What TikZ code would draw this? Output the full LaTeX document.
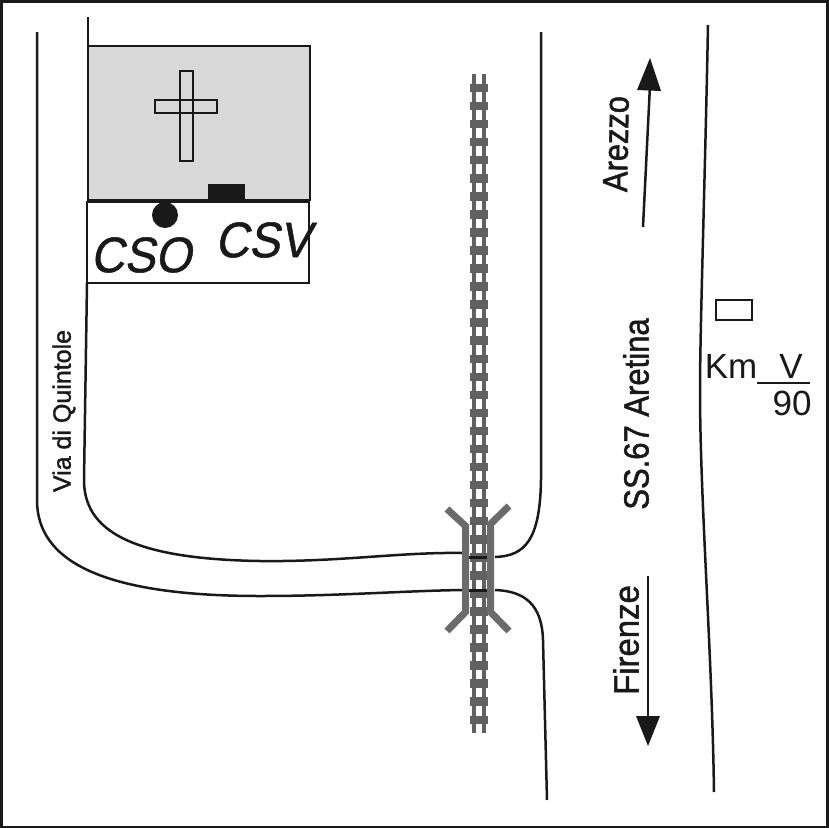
\documentclass[tikz,border=0pt]{standalone}
\usepackage{fontspec}
\setmainfont{Liberation Sans}
\newfontfamily\boldish[FakeBold=1.5]{Liberation Sans}
\newfontfamily\boldishit[FakeBold=1,FakeSlant=0.2]{Liberation Sans}
\usetikzlibrary{arrows.meta}
\definecolor{railc}{gray}{0.38}
\definecolor{bridgec}{gray}{0.42}
\definecolor{churchc}{gray}{0.85}
\definecolor{inkc}{gray}{0.1}
\tikzset{
  road/.style={draw=inkc,line width=2.5pt},
  thin box/.style={draw=inkc,line width=2.2pt},
  rail/.style={draw=railc,line width=4pt},
  tie/.style={draw=railc,line width=8.5pt},
  bridgeline/.style={draw=bridgec,line width=7pt},
  label/.style={inner sep=0pt,text=inkc},
  dirarrow/.style={draw=inkc,line width=2.5pt}
}
\begin{document}
\begin{tikzpicture}[x=1pt,y=-1pt]
\useasboundingbox (0,0) rectangle (828,828);
\fill[white] (0,0) rectangle (828,828);
% rails
\draw[rail] (474,74) -- (474,733);
\draw[rail] (484,74) -- (484,733);
\foreach \i in {0,...,35} {
  \pgfmathsetmacro{\yy}{88+18.05*\i}
  \draw[tie] (470,\yy) -- (488,\yy);
}
% church
\draw[thin box,fill=churchc] (88,46) rectangle (310,200);
\draw[thin box] (155,100) rectangle (217,113);
\draw[thin box] (180,71) rectangle (193,161);
\draw[thin box] (180,100) -- (180,113) (193,100) -- (193,113);
\fill[inkc] (208,184) rectangle (245,201);
\draw[thin box] (87,202) rectangle (309,283);
\draw[draw=inkc,line width=3.5pt] (87,201) -- (310,201);
\fill[inkc] (165,215) circle (13);
% roads
\draw[road] (88,17) -- (88,46);
\draw[road] (87,283) -- (84,480)
  .. controls (84,530) and (130,559) .. (260,561)
  .. controls (340,562) and (400,552) .. (462,553);
\draw[road] (37,32) -- (37,500)
  .. controls (37,560) and (100,596) .. (260,596)
  .. controls (340,596) and (400,591) .. (462,590);
\draw[road] (495,557) .. controls (525,556) and (540,540) .. (541,480) -- (541,32);
\draw[road] (495,590) .. controls (525,591) and (542,605) .. (543,640) -- (547,800);
\draw[road] (708,25) .. controls (705,180) and (700,330) .. (700,390)
  .. controls (700,500) and (712,650) .. (714,792);
% bridge
\draw[bridgeline,line join=miter] (447,509) -- (465.5,526) -- (465.5,612) -- (447,631);
\draw[bridgeline,line join=miter] (509,506) -- (490.5,524) -- (490.5,612) -- (509,631);
\draw[road,line width=3pt] (469,557) -- (487,557);
\draw[road,line width=3pt] (469,590) -- (487,590);
% direction arrows
\draw[dirarrow] (643,227) -- (650,85);
\fill[inkc] (650,58) -- (661,91) -- (637,90) -- cycle;
\draw[dirarrow] (648,576) -- (648,720);
\fill[inkc] (648,746) -- (636,716) -- (660,716) -- cycle;
% km post
\draw[thin box] (716,300) rectangle (752,320);
\draw[road] (757,383) -- (810,383);
% labels
\node[label,font=\fontsize{50}{50}\selectfont\boldishit,xscale=0.93] (cso) at (141,255) {CSO};
\node[label,font=\fontsize{50}{50}\selectfont\boldishit,xscale=0.93] (csv) at (263,240) {CSV};
\node[label,font=\fontsize{25}{25}\selectfont\boldish,rotate=90] (quintole) at (64,411) {Via di Quintole};
\node[label,font=\fontsize{35}{35}\selectfont\boldish,rotate=89,xscale=0.88] (arezzo) at (616,144) {Arezzo};
\node[label,font=\fontsize{35}{35}\selectfont\boldish,rotate=90,xscale=0.886] (aretina) at (636,414) {SS.67 Aretina};
\node[label,font=\fontsize{35}{35}\selectfont\boldish,rotate=90,xscale=0.94] (firenze) at (626,640) {Firenze};
\node[label,font=\fontsize{35}{35}\selectfont] (km) at (731,366) {Km};
\node[label,font=\fontsize{35}{35}\selectfont] (v) at (791,366) {V};
\node[label,font=\fontsize{35}{35}\selectfont] (ninety) at (792,403) {90};
% frame
\draw[draw=inkc,line width=3pt] (1,1) rectangle (827,827);
\end{tikzpicture}
\end{document}
